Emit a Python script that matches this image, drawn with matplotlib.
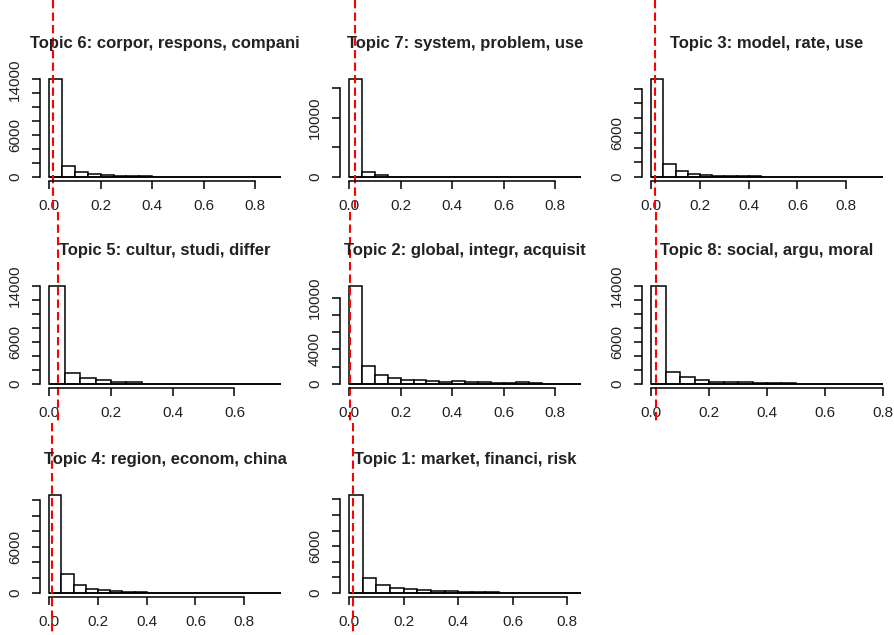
import matplotlib.pyplot as plt
import numpy as np
from matplotlib.transforms import blended_transform_factory

plt.rcParams['font.family'] = ['Liberation Sans', 'DejaVu Sans']

titles = ['Topic 6: corpor, respons, compani', 'Topic 7: system, problem, use',
          'Topic 3: model, rate, use', 'Topic 5: cultur, studi, differ',
          'Topic 2: global, integr, acquisit', 'Topic 8: social, argu, moral',
          'Topic 4: region, econom, china', 'Topic 1: market, financi, risk']

# histogram counts per 0.05-wide bin, starting at 0
counts = [
    [14050, 1600, 680, 400, 250, 160, 120, 90, 70, 40, 30, 20, 15, 10, 8, 5, 3, 2],
    [16500, 850, 340, 60, 30, 20, 10, 8, 5, 5, 3, 3, 2, 2, 1, 1, 1, 1],
    [13300, 1830, 780, 460, 280, 180, 130, 110, 80, 60, 50, 40, 30, 10, 5, 3, 2, 1, 1],
    [14000, 1620, 860, 620, 250, 240, 80, 60, 50, 40, 20, 10, 5, 3, 1],
    [11350, 2120, 1000, 730, 500, 420, 380, 270, 380, 270, 230, 150, 80, 190, 80, 40, 10, 5],
    [14000, 1790, 940, 610, 330, 280, 235, 130, 110, 90, 80, 40, 20, 10, 5, 3],
    [12700, 2470, 1000, 560, 350, 215, 130, 80, 60, 40, 20, 10, 5, 3, 2, 1, 1, 1, 1],
    [12560, 1930, 1030, 640, 470, 340, 260, 210, 170, 120, 90, 60, 20, 10, 5, 3, 1],
]
bin_width = 0.05
cutoffs = [0.013, 0.023, 0.016, 0.029, 0.004, 0.017, 0.012, 0.012]

y_step = [2000, 5000, 2000, 2000, 2000, 2000, 2000, 2000]
y_top = [14000, 15000, 12000, 14000, 10000, 14000, 12000, 12000]
y_labels = [[0, 6000, 14000], [0, 10000], [0, 6000], [0, 6000, 14000],
            [0, 4000, 10000], [0, 6000, 14000], [0, 6000], [0, 6000]]
x_top = [0.8, 0.8, 0.8, 0.6, 0.8, 0.8, 0.8, 0.8]

W, H = 895, 635
fig = plt.figure(figsize=(W / 100, H / 100), dpi=100)

col_left = [40, 340, 642]
row_bottom = [181, 388, 597]
row_span = [(0, 212), (212, 423), (423, 635)]
aw, ah = 250, 106
txt = '#222222'

for i, title in enumerate(titles):
    r, c = divmod(i, 3)
    ax = fig.add_axes([col_left[c] / W, 1 - row_bottom[r] / H, aw / W, ah / H])
    cnt = np.array(counts[i])
    edges = np.arange(len(cnt) + 1) * bin_width
    ax.bar(edges[:-1], cnt, width=bin_width, align='edge', color='white',
           edgecolor='black', linewidth=1.1)
    ax.hlines(0, edges[0], edges[-1], color='black', linewidth=1.1)
    xr = edges[-1] - edges[0]
    ax.set_xlim(edges[0] - 0.04 * xr, edges[-1] + 0.04 * xr)
    ym = cnt.max()
    ax.set_ylim(-0.04 * ym, 1.04 * ym)

    for s in ['top', 'right']:
        ax.spines[s].set_visible(False)
    ax.spines['left'].set_bounds(0, y_top[i])
    ax.spines['bottom'].set_bounds(0, x_top[i])
    ax.spines['left'].set_linewidth(1.1)
    ax.spines['bottom'].set_linewidth(1.1)

    xt = np.round(np.arange(0, x_top[i] + 1e-9, 0.2), 1)
    ax.set_xticks(xt)
    ax.set_xticklabels([f'{v:.1f}' for v in xt])
    yt = np.arange(0, y_top[i] + 1, y_step[i])
    ax.set_yticks(yt)
    ax.set_yticklabels([str(v) if v in y_labels[i] else '' for v in yt],
                       rotation=90, va='center')
    ax.tick_params(length=6, width=1.1, pad=7, labelsize=11, labelcolor=txt)

    ax.text(0.5, 1 + 27 / ah, title, transform=ax.transAxes, ha='center',
            va='baseline', fontsize=12, fontweight='bold', color=txt)

    tr = blended_transform_factory(ax.transData, fig.transFigure)
    y0, y1 = row_span[r]
    ax.plot([cutoffs[i], cutoffs[i]], [1 - y0 / H, 1 - y1 / H], transform=tr,
            color='red', linestyle=(0, (4, 2)), linewidth=1.5, clip_on=False)

fig.savefig('out.png', dpi=100)
